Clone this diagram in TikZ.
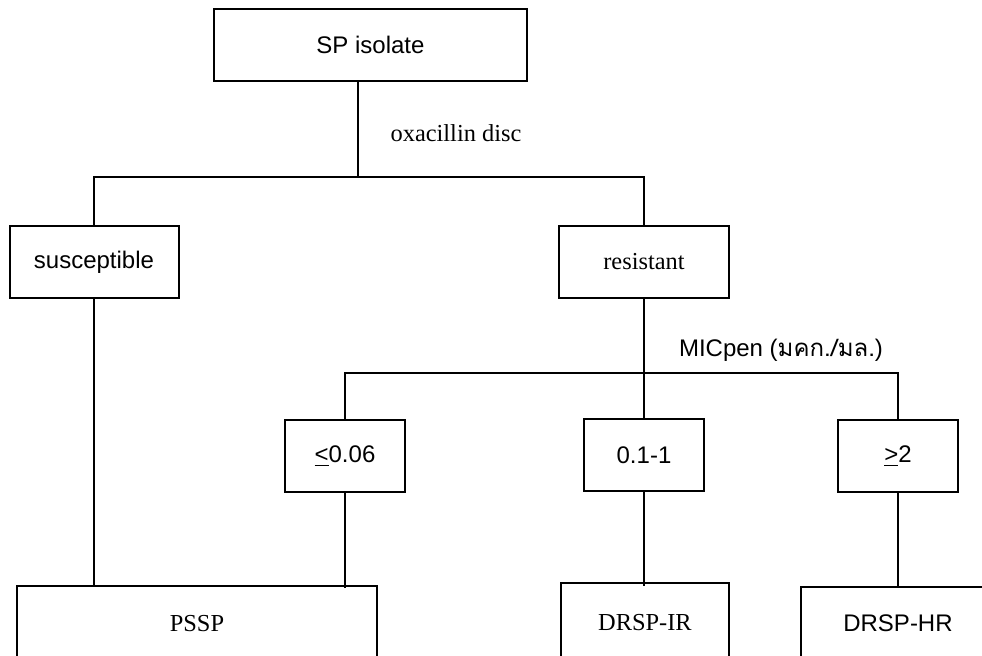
\documentclass[tikz,border=0pt]{standalone}
\usepackage{fontspec}
\setmainfont{Liberation Serif}
\setsansfont{Liberation Sans}
\newfontfamily\thaifont[Script=Thai]{Loma}
\usetikzlibrary{positioning}

\begin{document}
\begin{tikzpicture}[
x=0.5pt,
y=-0.5pt,
box/.style={
  draw,
  line width=1pt,
  inner sep=0pt,
  minimum height=36pt
  },
sbox/.style={
  box,
  font=\sffamily\fontsize{12}{14}\selectfont
  },
rbox/.style={
  box,
  font=\rmfamily\fontsize{12.2}{14}\selectfont
  },
wire/.style={
  line width=0.6pt
  }
]

\useasboundingbox (0,0) rectangle (982,656);
\clip (0,0) rectangle (982,656);

\node[sbox, minimum width=156.5pt] (isolate) at (370.5,45) {SP isolate};
\node[sbox, minimum width=84.5pt] (suscep) at (94,262) {susceptible};
\node[rbox, minimum width=85pt] (resist) at (644,262) {resistant};
\node[sbox, minimum width=60pt] (low) at (345,456) {\underline{<}0.06};
\node[sbox, minimum width=60pt] (mid) at (644,455) {0.1-1};
\node[sbox, minimum width=60pt] (high) at (898,456) {\underline{>}2};
\node[rbox, minimum width=180pt, minimum height=38pt] (pssp) at (197,624) {PSSP};
\node[rbox, minimum width=84pt, minimum height=40pt] (drspir) at (645,623) {DRSP-IR};
\node[sbox, minimum width=97.5pt] (drsphr) at (898,623) {DRSP-HR};

\node[font=\rmfamily\fontsize{12.2}{14}\selectfont] (oxa) at (456,133) {oxacillin disc};
\node[font=\sffamily\fontsize{12}{14}\selectfont] (mic) at (781,350) {MICpen ({\thaifont มคก./มล.})};

\coordinate (fork1) at (358,177);
\coordinate (fork2) at (644,373);

\draw[wire] (isolate.south -| fork1) -- (fork1);
\draw[wire] (suscep.north) |- (fork1) -| (resist.north);
\draw[wire] (suscep.south) -- (suscep.south |- pssp.north);
\draw[wire] (resist.south) -- (mid.north);
\draw[wire] (low.north) |- (fork2) -| (high.north);
\draw[wire] (low.south) -- ([yshift=-1.5pt]low.south |- pssp.north);
\draw[wire] (mid.south) -- ([yshift=-2pt]mid.south |- drspir.north);
\draw[wire] (high.south) -- (high.south |- drsphr.north);
\end{tikzpicture}
\end{document}
